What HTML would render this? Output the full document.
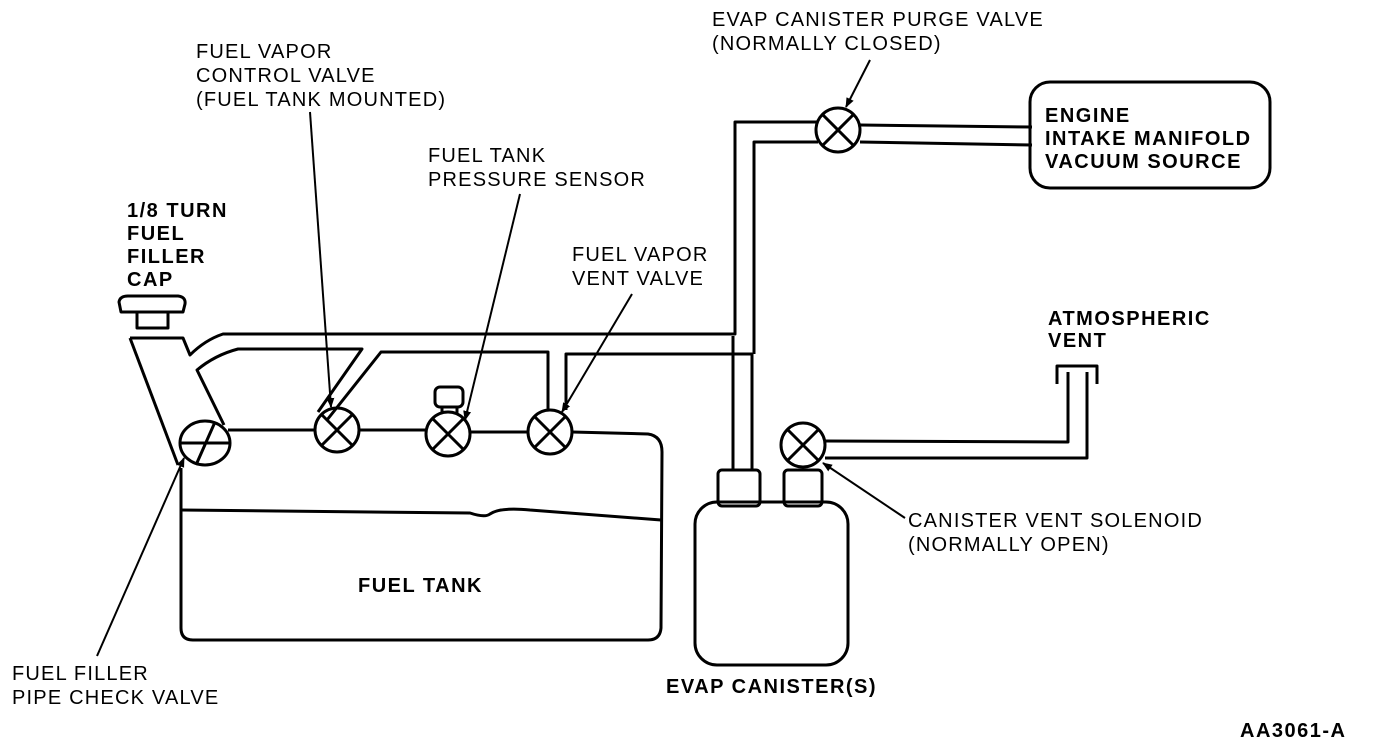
<!DOCTYPE html>
<html><head><style>body{margin:0;background:#fff}svg{display:block}text{font-family:"Liberation Sans",Arial,sans-serif;font-size:20px;letter-spacing:1.2px;fill:#000}.b{font-weight:bold;letter-spacing:1.5px}</style></head><body>
<svg width="1376" height="748" viewBox="0 0 1376 748" xmlns="http://www.w3.org/2000/svg">
<defs><marker id="a" markerWidth="10" markerHeight="10" refX="9" refY="5" orient="auto" markerUnits="userSpaceOnUse"><path d="M0,1 L10,5 L0,9 Z" fill="#000"/></marker>
<g id="v" fill="none" stroke="#000" stroke-width="3"><circle cx="0" cy="0" r="22"/><path d="M-15,-15 L15,15 M15,-15 L-15,15"/></g></defs>
<g fill="none" stroke="#000" stroke-width="3" stroke-linejoin="round">
<path d="M121,312 L119,302 Q120,296 128,296 L178,296 Q186,297 185,304 L183,312 Z"/>
<rect x="137" y="312" width="31" height="16"/>
<path d="M130,338 L178,465"/>
<path d="M130,338 L183,338 L190,355 Q205,340 223,334 L735,334 L735,122 L818,122"/>
<path d="M224,425 L197,370 Q215,355 238,349 L362,349 L318,412"/>
<path d="M327,420 L381,352 L548,352 L548,410"/>
<path d="M566,410 L566,354 L752,354 L752,470"/>
<path d="M733,336 L733,470"/>
<path d="M818,142 L754,142 L754,354"/>
<ellipse cx="205" cy="443" rx="25" ry="22"/>
<path d="M180,443 L230,443 M215,422 L196,465"/>
<path d="M228,430 L315,430 M359,430 L426,430 M470,432 L528,432 M572,432 L648,434 Q662,436 662,452 L661,628 Q660,640 648,640 L193,640 Q181,640 181,628 L181,468"/>
<path d="M181,510 L470,513 Q485,518 490,514 Q500,507 530,510 L661,520"/>
<rect x="435" y="387" width="28" height="20" rx="5"/>
<path d="M442,407 L442,414 M457,407 L457,414"/>
<path d="M860,125 L1032,127 M860,142 L1032,145"/>
<rect x="1030" y="82" width="240" height="106" rx="20"/>
<rect x="718" y="470" width="42" height="36" rx="4"/>
<rect x="784" y="470" width="38" height="36" rx="4"/>
<rect x="695" y="502" width="153" height="163" rx="22"/>
<path d="M825,441 L1068,442 L1068,372 M825,458 L1087,458 L1087,372 M1057,384 L1057,366 L1097,366 L1097,384"/>
</g>
<use href="#v" x="337" y="430"/>
<use href="#v" x="448" y="434"/>
<use href="#v" x="550" y="432"/>
<use href="#v" x="838" y="130"/>
<use href="#v" x="803" y="445"/>
<g stroke="#000" stroke-width="2" fill="none" marker-end="url(#a)">
<line x1="310" y1="112" x2="331" y2="407"/>
<line x1="520" y1="194" x2="465" y2="420"/>
<line x1="632" y1="294" x2="562" y2="412"/>
<line x1="870" y1="60" x2="846" y2="107"/>
<line x1="97" y1="656" x2="184" y2="458"/>
<line x1="905" y1="518" x2="823" y2="463"/>
</g>
<text x="196" y="58">FUEL VAPOR</text>
<text x="196" y="82">CONTROL VALVE</text>
<text x="196" y="106">(FUEL TANK MOUNTED)</text>
<text x="428" y="162">FUEL TANK</text>
<text x="428" y="186">PRESSURE SENSOR</text>
<text x="572" y="261">FUEL VAPOR</text>
<text x="572" y="285">VENT VALVE</text>
<text class="b" x="127" y="217">1/8 TURN</text>
<text class="b" x="127" y="240">FUEL</text>
<text class="b" x="127" y="263">FILLER</text>
<text class="b" x="127" y="286">CAP</text>
<text x="712" y="26">EVAP CANISTER PURGE VALVE</text>
<text x="712" y="50">(NORMALLY CLOSED)</text>
<text class="b" x="1045" y="122">ENGINE</text>
<text class="b" x="1045" y="145">INTAKE MANIFOLD</text>
<text class="b" x="1045" y="168">VACUUM SOURCE</text>
<text class="b" x="1048" y="325">ATMOSPHERIC</text>
<text class="b" x="1048" y="347">VENT</text>
<text x="908" y="527">CANISTER VENT SOLENOID</text>
<text x="908" y="551">(NORMALLY OPEN)</text>
<text class="b" x="358" y="592">FUEL TANK</text>
<text class="b" x="666" y="693">EVAP CANISTER(S)</text>
<text x="12" y="680">FUEL FILLER</text>
<text x="12" y="704">PIPE CHECK VALVE</text>
<text class="b" x="1240" y="737">AA3061-A</text>
</svg>
</body></html>
